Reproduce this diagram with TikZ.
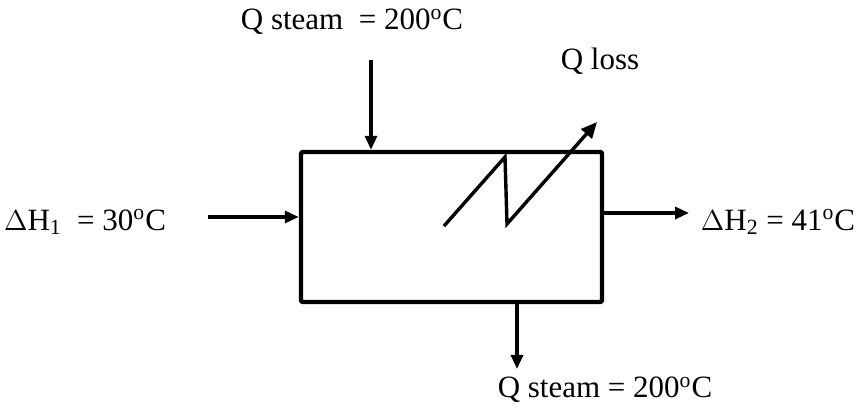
\documentclass[tikz,border=0pt]{standalone}
\usepackage{fontspec}
\setmainfont{Liberation Serif}
\usetikzlibrary{arrows.meta}
\newcommand{\degc}{\textsuperscript{o}C}
\tikzset{
  flow/.style={line width=1.6pt,-{Triangle[length=7pt,width=6pt]}},
  lbl/.style={inner sep=0pt,font=\fontsize{15.5}{18}\selectfont},
  unitbox/.style={draw,line width=2.2pt,rounded corners=1pt,minimum width=150.5pt,minimum height=75pt,inner sep=0pt}
}
\begin{document}
\begin{tikzpicture}[x=0.5pt,y=-0.5pt]
\path[use as bounding box] (0,0) rectangle (857,410);
\node[unitbox] (unit) at (451.5,227) {};
\node[lbl] (steamin) at (352,22) {Q steam\ \ = 200\degc};
\node[lbl] (qloss) at (600,61) {Q loss};
\node[lbl] (hin) at (85,222) {$\Delta$H\textsubscript{1}\ \ = 30\degc};
\node[lbl] (hout) at (778,222) {$\Delta$H\textsubscript{2} = 41\degc};
\node[lbl] (steamout) at (605,390) {Q steam = 200\degc};
\coordinate (sin) at (371,60);
\coordinate (ain) at (208,217);
\coordinate (aout) at (689,213);
\coordinate (sout) at (517,369);
\draw[flow] (sin) -- (sin |- unit.north);
\draw[flow] (ain) -- (ain -| unit.west);
\draw[flow] (aout -| unit.east) -- (aout);
\draw[flow] (sout |- unit.south) -- (sout);
\draw[line width=1.7pt,-{Triangle[length=8pt,width=7pt]}] (444,226) -- (505,157) -- (507,224) -- (597,122);
\end{tikzpicture}
\end{document}
